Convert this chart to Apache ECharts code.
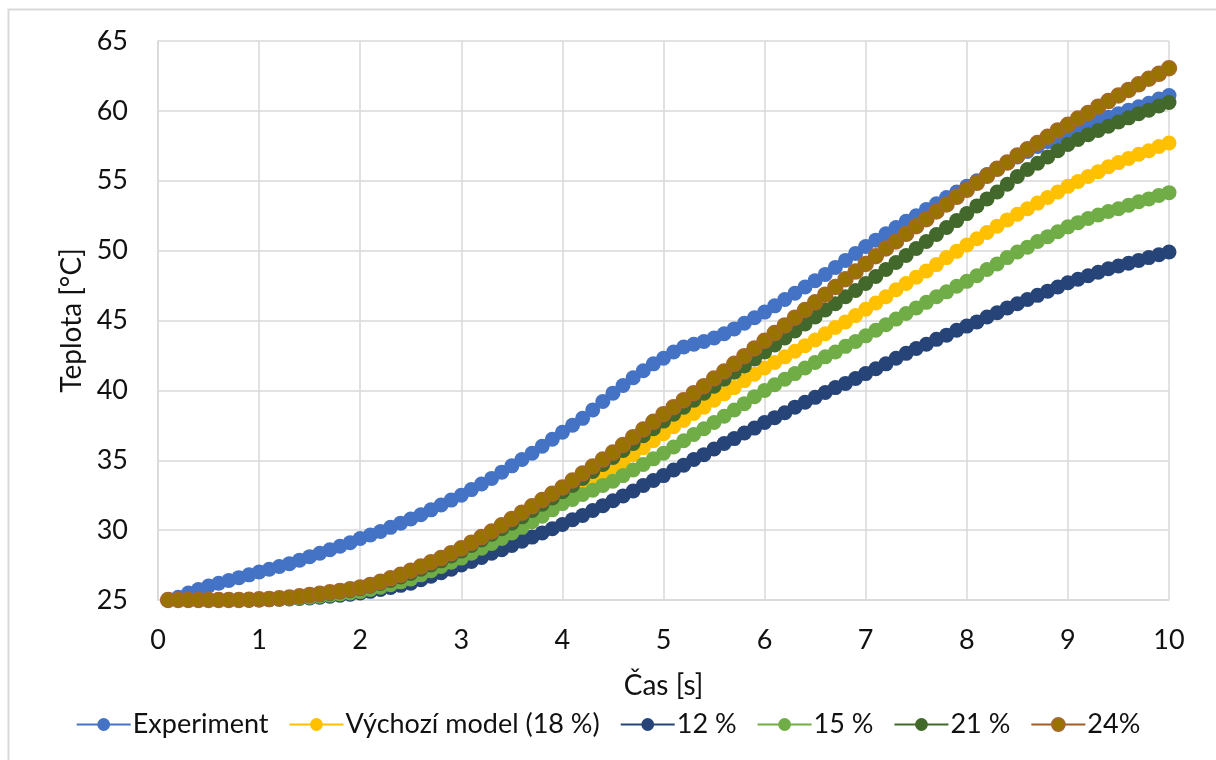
<!DOCTYPE html>
<html>
<head>
<meta charset="utf-8">
<script src="https://cdn.jsdelivr.net/npm/echarts@6/dist/echarts.min.js"></script>
<style>
html,body{margin:0;padding:0;background:#fff;}
#chart{width:1216px;height:760px;}
</style>
</head>
<body>
<div id="chart"></div>
<script>
const times = [0.1,0.2,0.3,0.4,0.5,0.6,0.7,0.8,0.9,1.0,1.1,1.2,1.3,1.4,1.5,1.6,1.7,1.8,1.9,2.0,2.1,2.2,2.3,2.4,2.5,2.6,2.7,2.8,2.9,3.0,3.1,3.2,3.3,3.4,3.5,3.6,3.7,3.8,3.9,4.0,4.1,4.2,4.3,4.4,4.5,4.6,4.7,4.8,4.9,5.0,5.1,5.2,5.3,5.4,5.5,5.6,5.7,5.8,5.9,6.0,6.1,6.2,6.3,6.4,6.5,6.6,6.7,6.8,6.9,7.0,7.1,7.2,7.3,7.4,7.5,7.6,7.7,7.8,7.9,8.0,8.1,8.2,8.3,8.4,8.5,8.6,8.7,8.8,8.9,9.0,9.1,9.2,9.3,9.4,9.5,9.6,9.7,9.8,9.9,10.0];

const experiment = [25.0,25.2,25.5,25.75,26.0,26.2,26.4,26.6,26.8,27.0,27.2,27.4,27.6,27.85,28.1,28.35,28.6,28.85,29.1,29.4,29.65,29.9,30.2,30.5,30.8,31.1,31.45,31.8,32.15,32.5,32.9,33.3,33.7,34.15,34.6,35.05,35.5,36.0,36.5,37.0,37.5,38.0,38.6,39.2,39.8,40.35,40.9,41.4,41.9,42.3,42.75,43.1,43.3,43.5,43.75,44.05,44.4,44.8,45.2,45.6,46.05,46.5,46.95,47.4,47.85,48.3,48.8,49.3,49.8,50.3,50.75,51.2,51.65,52.1,52.5,52.95,53.35,53.8,54.2,54.6,55.0,55.45,55.85,56.3,56.7,57.1,57.45,57.8,58.15,58.5,58.75,59.0,59.3,59.55,59.8,60.05,60.3,60.55,60.85,61.1];

const model18 = [25.0,25.0,25.0,25.0,25.0,25.0,25.0,25.0,25.0,25.02,25.05,25.08,25.12,25.18,25.25,25.33,25.42,25.52,25.6,25.7,25.85,26.05,26.25,26.45,26.7,27.0,27.3,27.6,27.95,28.3,28.65,29.05,29.4,29.8,30.2,30.65,31.1,31.5,31.95,32.4,32.8,33.2,33.6,34.0,34.45,34.9,35.4,35.9,36.4,36.9,37.4,37.85,38.35,38.8,39.3,39.75,40.2,40.7,41.15,41.6,42.0,42.4,42.8,43.2,43.6,44.05,44.5,44.9,45.35,45.8,46.25,46.7,47.2,47.65,48.1,48.55,49.0,49.5,49.95,50.4,50.85,51.3,51.75,52.2,52.6,53.0,53.4,53.8,54.2,54.6,54.95,55.3,55.65,56.0,56.3,56.6,56.9,57.15,57.45,57.7];

const p12 = [25.0,25.0,25.0,25.0,25.0,25.0,25.0,25.0,25.0,25.0,25.02,25.05,25.08,25.11,25.15,25.2,25.27,25.34,25.42,25.5,25.62,25.75,25.9,26.05,26.2,26.45,26.7,26.95,27.2,27.5,27.75,28.05,28.35,28.6,28.9,29.2,29.5,29.8,30.1,30.4,30.75,31.05,31.4,31.75,32.1,32.45,32.8,33.2,33.55,33.9,34.3,34.65,35.05,35.4,35.8,36.2,36.55,36.95,37.3,37.7,38.05,38.4,38.8,39.15,39.5,39.85,40.2,40.5,40.85,41.2,41.55,41.9,42.3,42.65,43.0,43.3,43.65,43.95,44.3,44.6,44.9,45.25,45.55,45.9,46.2,46.5,46.8,47.1,47.4,47.7,47.95,48.2,48.45,48.7,48.9,49.1,49.3,49.5,49.7,49.9];

const p15 = [25.0,25.0,25.0,25.0,25.0,25.0,25.0,25.0,25.0,25.02,25.04,25.07,25.1,25.15,25.2,25.27,25.35,25.43,25.5,25.6,25.75,25.92,26.1,26.3,26.5,26.8,27.1,27.4,27.7,28.0,28.35,28.7,29.05,29.4,29.8,30.2,30.6,31.0,31.45,31.9,32.2,32.55,32.85,33.2,33.5,33.9,34.3,34.7,35.1,35.5,35.95,36.4,36.85,37.25,37.7,38.15,38.6,39.05,39.55,40.0,40.4,40.8,41.2,41.6,42.0,42.4,42.75,43.15,43.5,43.9,44.3,44.7,45.1,45.5,45.9,46.3,46.7,47.05,47.45,47.8,48.2,48.65,49.05,49.5,49.9,50.25,50.65,51.0,51.35,51.7,52.0,52.3,52.55,52.8,53.0,53.25,53.5,53.7,53.95,54.15];

const p21 = [25.0,25.0,25.0,25.0,25.0,25.0,25.0,25.0,25.0,25.03,25.06,25.1,25.15,25.22,25.3,25.38,25.47,25.57,25.68,25.8,25.98,26.18,26.4,26.65,26.9,27.2,27.5,27.8,28.15,28.5,28.9,29.3,29.7,30.1,30.5,30.95,31.4,31.85,32.3,32.75,33.2,33.7,34.2,34.7,35.2,35.7,36.2,36.75,37.25,37.8,38.3,38.8,39.3,39.8,40.3,40.8,41.3,41.75,42.25,42.75,43.25,43.75,44.25,44.75,45.25,45.75,46.2,46.7,47.15,47.65,48.15,48.65,49.15,49.65,50.15,50.65,51.15,51.65,52.15,52.65,53.2,53.7,54.2,54.75,55.3,55.8,56.25,56.7,57.15,57.6,57.95,58.3,58.6,58.9,59.2,59.5,59.8,60.05,60.35,60.6];

const p24 = [25.0,25.0,25.0,25.0,25.0,25.0,25.0,25.0,25.02,25.05,25.08,25.12,25.18,25.26,25.35,25.45,25.55,25.65,25.77,25.9,26.08,26.3,26.55,26.8,27.1,27.4,27.7,28.0,28.35,28.7,29.1,29.5,29.9,30.35,30.8,31.25,31.7,32.15,32.6,33.05,33.55,34.05,34.55,35.05,35.55,36.1,36.65,37.2,37.75,38.3,38.8,39.3,39.8,40.3,40.85,41.35,41.9,42.45,43.0,43.55,44.1,44.65,45.2,45.75,46.3,46.85,47.4,47.95,48.5,49.05,49.6,50.15,50.65,51.2,51.75,52.25,52.8,53.3,53.85,54.35,54.85,55.35,55.85,56.3,56.8,57.25,57.7,58.15,58.6,59.0,59.45,59.85,60.3,60.7,61.1,61.5,61.9,62.3,62.65,63.05];

const seriesNames = ['Experiment','Výchozí model (18 %)','12 %','15 %','21 %','24%'];
const seriesValues = [experiment, model18, p12, p15, p21, p24];
const seriesColors = ['#4472C4','#FFC000','#264478','#70AD47','#43682B','#997300'];
const lineColors = ['#4472C4','#FFC000','#264478','#70AD47','#43682B','#9E5F2B'];
const borderColors = ['#4472C4','#FFC000','#264478','#70AD47','#43682B','#A5682A'];

const FONT = 'Lato';
const chart = echarts.init(document.getElementById('chart'), null, {renderer:'canvas'});

const series = seriesNames.map((name, i) => ({
  name: name,
  type: 'line',
  data: times.map((t, k) => [t, seriesValues[i][k]]),
  symbol: 'circle',
  symbolSize: 15,
  showSymbol: true,
  lineStyle: {color: lineColors[i], width: 3},
  itemStyle: {color: seriesColors[i], borderColor: borderColors[i], borderWidth: i === 5 ? 1.5 : 0},
  emphasis: {disabled: true},
  z: 2 + i
}));

chart.setOption({
  animation: false,
  backgroundColor: '#fff',
  graphic: [{
    type: 'rect',
    left: 6, top: 7,
    shape: {width: 1300, height: 900},
    style: {fill: 'none', stroke: '#d9d9d9', lineWidth: 2},
    silent: true
  }],
  grid: {left: 158, right: 47, top: 41, bottom: 160, containLabel: false},
  legend: {
    data: seriesNames,
    left: 'center',
    top: 706,
    itemWidth: 54,
    itemHeight: 16,
    itemGap: 20,
    textStyle: {fontFamily: FONT, fontSize: 27, color: '#111', padding: [0,0,0,-3]}
  },
  xAxis: {
    type: 'value',
    min: 0, max: 10, interval: 1,
    name: 'Čas [s]',
    nameLocation: 'middle',
    nameGap: 72,
    nameTextStyle: {fontFamily: FONT, fontSize: 28, color: '#111'},
    axisLine: {show: true, lineStyle: {color: '#d9d9d9', width: 1.5}},
    axisTick: {show: false},
    axisLabel: {fontFamily: FONT, fontSize: 27, color: '#111', margin: 27},
    splitLine: {show: true, lineStyle: {color: '#d9d9d9', width: 1.5}}
  },
  yAxis: {
    type: 'value',
    min: 25, max: 65, interval: 5,
    name: 'Teplota [°C]',
    nameLocation: 'middle',
    nameGap: 72,
    nameTextStyle: {fontFamily: FONT, fontSize: 28, color: '#111'},
    axisLine: {show: true, lineStyle: {color: '#d9d9d9', width: 1.5}},
    axisTick: {show: false},
    axisLabel: {fontFamily: FONT, fontSize: 27, color: '#111', margin: 30},
    splitLine: {show: true, lineStyle: {color: '#d9d9d9', width: 1.5}}
  },
  series: series
});
</script>
</body>
</html>
